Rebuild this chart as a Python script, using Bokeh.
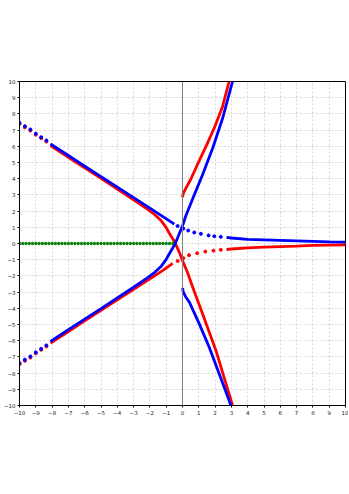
from bokeh.plotting import figure
from bokeh.models import Range1d, FixedTicker, Span
from bokeh.embed import file_html
from bokeh.resources import INLINE

# ---- data ----
tick_vals = [-10, -9, -8, -7, -6, -5, -4, -3, -2, -1, 0, 1, 2, 3, 4, 5, 6, 7, 8, 9, 10]
tick_labels = ["\u221210", "\u22129", "\u22128", "\u22127", "\u22126", "\u22125", "\u22124",
               "\u22123", "\u22122", "\u22121", "0", "1", "2", "3", "4", "5", "6", "7", "8", "9", "10"]

# blue, upper-left branch (sparse tail + dense part)
blue_ul_sparse_x = [-10.0, -9.67, -9.33, -9.0, -8.67, -8.35]
blue_ul_sparse_y = [7.45, 7.24, 7.04, 6.78, 6.56, 6.36]
blue_ul_x = [-8.1, -7.0, -6.0, -5.0, -4.0, -3.0, -2.0, -1.2, -0.5]
blue_ul_y = [6.15, 5.43, 4.78, 4.13, 3.48, 2.83, 2.18, 1.66, 1.2]

# blue, lower-left branch running up through the origin to the upper right
blue_ll_sparse_x = [-10.0, -9.67, -9.33, -9.0, -8.67, -8.35]
blue_ll_sparse_y = [-7.38, -7.17, -6.97, -6.72, -6.5, -6.29]
blue_ll_x = [-8.1, -7.0, -6.0, -5.0, -4.0, -3.0, -2.2, -1.7, -1.3, -1.0, -0.8, -0.6,
             -0.45, -0.3, -0.15, 0.0, 0.2, 0.6, 1.23, 1.85, 2.46, 3.07]
blue_ll_y = [-6.05, -5.32, -4.67, -4.02, -3.36, -2.7, -2.15, -1.78, -1.4, -0.98, -0.62, -0.28,
             0.0, 0.35, 0.72, 1.08, 1.7, 2.7, 4.24, 5.88, 7.73, 10.0]

# blue, lower-right branch
blue_lr_x = [0.0, 0.05, 0.2, 0.42, 1.03, 1.64, 2.25, 2.86, 2.97]
blue_lr_y = [-2.75, -3.0, -3.3, -3.62, -4.96, -6.4, -8.04, -9.69, -10.0]

# blue, right branch near the real axis
blue_r_sparse_x = [-0.3, 0.05, 0.35, 0.72, 1.13, 1.6, 1.95, 2.35]
blue_r_sparse_y = [1.08, 0.92, 0.8, 0.68, 0.6, 0.5, 0.45, 0.41]
blue_r_x = [2.7, 3.0, 4.0, 5.0, 6.0, 7.0, 8.0, 9.0, 10.0]
blue_r_y = [0.38, 0.34, 0.25, 0.22, 0.19, 0.16, 0.13, 0.1, 0.08]

# red, upper-left branch running down through the origin to the lower right
red_ul_sparse_x = [-10.0, -9.67, -9.33, -9.0, -8.67, -8.35]
red_ul_sparse_y = [7.38, 7.17, 6.97, 6.72, 6.5, 6.29]
red_ul_x = [-8.1, -7.0, -6.0, -5.0, -4.0, -3.0, -2.2, -1.7, -1.3, -1.0, -0.8, -0.6,
            -0.45, -0.3, -0.15, 0.0, 0.3, 0.7, 1.23, 2.05, 3.07]
red_ul_y = [6.05, 5.32, 4.67, 4.02, 3.36, 2.7, 2.15, 1.78, 1.4, 0.98, 0.62, 0.3,
            0.02, -0.3, -0.65, -1.05, -1.77, -2.9, -4.34, -6.6, -10.0]

# red, lower-left branch
red_ll_sparse_x = [-10.0, -9.67, -9.33, -9.0, -8.67, -8.35]
red_ll_sparse_y = [-7.45, -7.24, -7.04, -6.78, -6.56, -6.36]
red_ll_x = [-8.1, -7.0, -6.0, -5.0, -4.0, -3.0, -2.0, -1.2, -0.6]
red_ll_y = [-6.15, -5.43, -4.78, -4.13, -3.48, -2.83, -2.18, -1.66, -1.22]

# red, upper-right branch
red_ur_x = [0.0, 0.05, 0.2, 0.5, 1.0, 1.5, 2.0, 2.46, 2.86]
red_ur_y = [2.85, 3.1, 3.4, 3.95, 5.05, 6.12, 7.25, 8.46, 10.0]

# red, right branch near the real axis
red_r_sparse_x = [-0.3, 0.05, 0.4, 0.9, 1.4, 1.9, 2.35]
red_r_sparse_y = [-1.08, -0.9, -0.72, -0.6, -0.5, -0.44, -0.39]
red_r_x = [2.7, 3.0, 4.0, 5.0, 6.0, 7.0, 8.0, 9.0, 10.0]
red_r_y = [-0.37, -0.34, -0.27, -0.22, -0.19, -0.16, -0.12, -0.1, -0.08]

# green, real roots on the negative axis
green_x = [-10.0, -9.8, -9.6, -9.4, -9.2, -9.0, -8.8, -8.6, -8.4, -8.2, -8.0, -7.8, -7.6,
           -7.4, -7.2, -7.0, -6.8, -6.6, -6.4, -6.2, -6.0, -5.8, -5.6, -5.4, -5.2, -5.0,
           -4.8, -4.6, -4.4, -4.2, -4.0, -3.8, -3.6, -3.4, -3.2, -3.0, -2.8, -2.6, -2.4,
           -2.2, -2.0, -1.8, -1.6, -1.4, -1.2, -1.0, -0.8, -0.6]
green_y = [0.0] * len(green_x)

BLUE = "#0000ff"
RED = "#ff0000"
GREEN = "#008000"
LW = 2.8
DOT = 3.0

p = figure(frame_width=326, frame_height=324, output_backend="svg", toolbar_location=None,
           x_range=Range1d(-10, 10), y_range=Range1d(-10, 10),
           min_border_top=81, min_border_bottom=4, min_border_left=0, min_border_right=3,
           background_fill_color="white", border_fill_color="white")

ticker = FixedTicker(ticks=tick_vals)
overrides = {v: s for v, s in zip(tick_vals, tick_labels)}
for ax in (p.xaxis[0], p.yaxis[0]):
    ax.ticker = ticker
    ax.major_label_overrides = overrides
    ax.major_label_text_font = "DejaVu Sans"
    ax.major_label_text_font_size = "5.5px"
    ax.major_label_text_color = "#222222"
    ax.major_label_standoff = 2
    ax.major_tick_out = 2
    ax.major_tick_in = 0
    ax.minor_tick_out = 0
    ax.minor_tick_in = 0
    ax.axis_line_color = "black"
    ax.major_tick_line_color = "black"

p.xgrid.ticker = ticker
p.ygrid.ticker = ticker
p.grid.grid_line_color = "#c4c4c4"
p.grid.grid_line_dash = "2 2"
p.grid.grid_line_width = 0.7
p.outline_line_color = "black"
p.outline_line_width = 1

p.add_layout(Span(location=0, dimension="height", line_color="#808080", line_width=1))

# red
p.line(red_ul_x, red_ul_y, color=RED, line_width=LW)
p.line(red_ll_x, red_ll_y, color=RED, line_width=LW)
p.line(red_ur_x, red_ur_y, color=RED, line_width=LW)
p.line(red_r_x, red_r_y, color=RED, line_width=LW)
p.scatter(red_ul_sparse_x, red_ul_sparse_y, size=DOT, color=RED)
p.scatter(red_ll_sparse_x, red_ll_sparse_y, size=DOT, color=RED)
p.scatter(red_r_sparse_x, red_r_sparse_y, size=DOT, color=RED)

# blue
p.line(blue_ul_x, blue_ul_y, color=BLUE, line_width=LW)
p.line(blue_ll_x, blue_ll_y, color=BLUE, line_width=LW)
p.line(blue_lr_x, blue_lr_y, color=BLUE, line_width=LW)
p.line(blue_r_x, blue_r_y, color=BLUE, line_width=LW)
p.scatter(blue_ul_sparse_x, blue_ul_sparse_y, size=DOT, color=BLUE)
p.scatter(blue_ll_sparse_x, blue_ll_sparse_y, size=DOT, color=BLUE)
p.scatter(blue_r_sparse_x, blue_r_sparse_y, size=DOT, color=BLUE)

# green
p.scatter(green_x, green_y, size=2.5, color=GREEN)

open("out.html", "w").write(file_html(p, INLINE))
